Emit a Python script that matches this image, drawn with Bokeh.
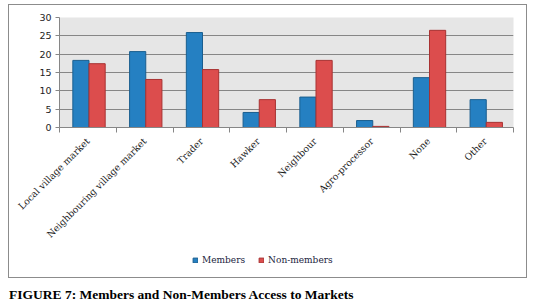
from bokeh.plotting import figure
from bokeh.models import Range1d, FixedTicker, Legend, LegendItem, ColumnDataSource, Div
from bokeh.layouts import column
from bokeh.embed import file_html
from bokeh.resources import INLINE
import math

categories = ["Local village market", "Neighbouring village market", "Trader", "Hawker",
              "Neighbour", "Agro-processor", "None", "Other"]
members = [18.3, 20.7, 25.9, 4.1, 8.3, 1.9, 13.6, 7.6]
non_members = [17.4, 13.1, 15.8, 7.6, 18.3, 0.3, 26.5, 1.4]
y_ticks = [0, 5, 10, 15, 20, 25, 30]

BLUE, BLUE_EDGE = "#2580c2", "#1a5e8f"
RED, RED_EDGE = "#dc4d4d", "#a83232"

p = figure(width=517, height=245, output_backend="svg", toolbar_location=None,
           x_range=Range1d(0, len(categories)), y_range=Range1d(0, 30),
           min_border_left=50, min_border_right=13, min_border_top=12, min_border_bottom=123)
p.background_fill_color = "#e6e6e6"
p.border_fill_color = "white"
p.outline_line_color = None

bw = 0.285
centers = [i + 0.52 for i in range(len(categories))]
src = ColumnDataSource(dict(xm=[c - bw / 2 for c in centers], xn=[c + bw / 2 for c in centers],
                            m=members, n=non_members))
p.vbar(x="xm", top="m", width=bw, source=src, fill_color=BLUE, line_color=BLUE_EDGE, line_width=1)
p.vbar(x="xn", top="n", width=bw, source=src, fill_color=RED, line_color=RED_EDGE, line_width=1)

p.xgrid.grid_line_color = None
p.ygrid.ticker = FixedTicker(ticks=y_ticks)
p.ygrid.grid_line_color = "#868686"
p.ygrid.grid_line_width = 1

p.yaxis.ticker = FixedTicker(ticks=y_ticks)
p.yaxis.axis_line_color = "#868686"
p.yaxis.major_tick_line_color = "#868686"
p.yaxis.major_tick_out = 4
p.yaxis.major_tick_in = 0
p.yaxis.minor_tick_line_color = None
p.yaxis.major_label_text_font = "DejaVu Sans"
p.yaxis.major_label_text_font_size = "9.5px"
p.yaxis.major_label_text_color = "#222222"
p.yaxis.major_label_standoff = 4

label_pos = [i + 0.5 for i in range(len(categories))]
p.xaxis.ticker = FixedTicker(ticks=label_pos, minor_ticks=list(range(len(categories) + 1)))
p.xaxis.major_label_overrides = {pos: c for pos, c in zip(label_pos, categories)}
p.xaxis.major_label_orientation = math.pi / 4
p.xaxis.major_tick_line_color = None
p.xaxis.minor_tick_line_color = "#868686"
p.xaxis.minor_tick_out = 5
p.xaxis.minor_tick_in = 0
p.xaxis.axis_line_color = "#868686"
p.xaxis.major_label_text_font = "DejaVu Serif"
p.xaxis.major_label_text_font_size = "9.3px"
p.xaxis.major_label_text_color = "#1a1a1a"
p.xaxis.major_label_standoff = 6

# legend strip (own small figure so the legend is not clipped); its bars lie below its view
lf = figure(width=517, height=27, output_backend="svg", toolbar_location=None,
            x_range=Range1d(0, len(categories)), y_range=Range1d(100, 101),
            x_axis_type=None, y_axis_type=None,
            min_border_left=50, min_border_right=13, min_border_top=0, min_border_bottom=0)
lf.outline_line_color = None
lf.background_fill_color = "white"
lf.border_fill_color = "white"
lf.grid.visible = False
lm = lf.vbar(x="xm", top="m", width=bw, source=src, fill_color=BLUE, line_color=BLUE_EDGE)
ln = lf.vbar(x="xn", top="n", width=bw, source=src, fill_color=RED, line_color=RED_EDGE)

legend = Legend(items=[LegendItem(label="Members", renderers=[lm]),
                       LegendItem(label="Non-members", renderers=[ln])],
                orientation="horizontal", location=(133, 11))
legend.background_fill_alpha = 0
legend.border_line_color = None
legend.padding = 0
legend.margin = 0
legend.glyph_width = 6
legend.glyph_height = 6
legend.label_standoff = 4
legend.spacing = 13
legend.label_text_font = "DejaVu Serif"
legend.label_text_font_size = "9px"
legend.label_text_color = "#1a2340"
legend.label_height = 12
lf.add_layout(legend, "center")

box = column(p, lf, spacing=0, margin=(5, 0, 0, 9),
             styles={"outline": "1.5px solid #8c8c8c"})

title = Div(text="FIGURE 7: Members and Non-Members Access to Markets", width=520, height=20,
            margin=(8, 0, 0, 9),
            styles={"font-family": "Liberation Serif", "font-weight": "bold",
                    "font-size": "13.5px", "color": "black", "white-space": "nowrap"})

layout = column(box, title, spacing=0)
open("out.html", "w").write(file_html(layout, INLINE))
